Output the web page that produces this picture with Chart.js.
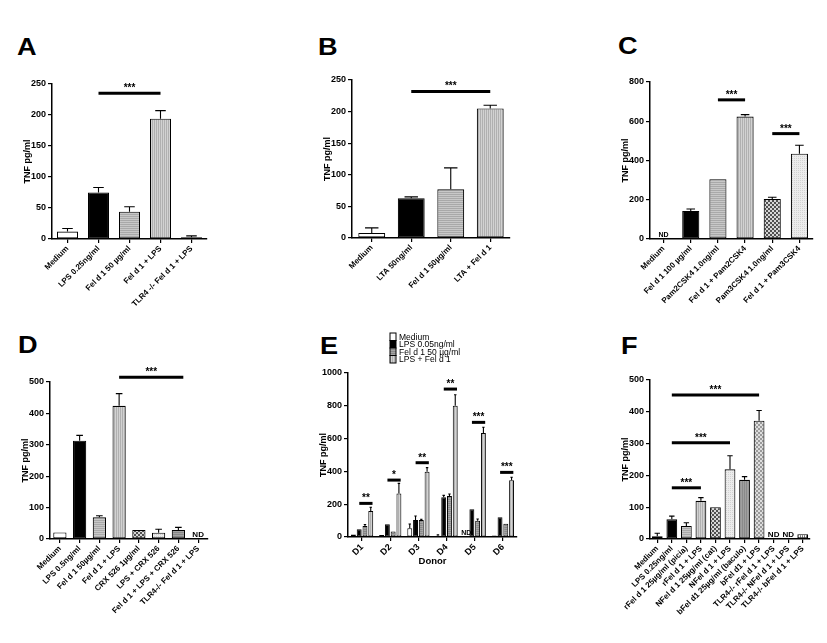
<!DOCTYPE html>
<html>
<head>
<meta charset="utf-8">
<script src="https://cdn.jsdelivr.net/npm/chart.js@4.4.0/dist/chart.umd.min.js"></script>
<style>
  body { margin: 0; background: #fff; width: 827px; height: 643px; position: relative; overflow: hidden; font-family: "Liberation Sans", Arial, sans-serif; }
  canvas { position: absolute; }
  .panel { position: absolute; font-weight: bold; font-size: 23px; line-height: 1; transform: scaleX(1.18); transform-origin: left top; }
</style>
</head>
<body>
<div class="panel" style="left:17px;top:36px">A</div>
<div class="panel" style="left:318px;top:36px">B</div>
<div class="panel" style="left:618px;top:35px">C</div>
<div class="panel" style="left:18px;top:334px">D</div>
<div class="panel" style="left:320px;top:335px">E</div>
<div class="panel" style="left:621px;top:335px">F</div>

<canvas id="chartA"></canvas>
<canvas id="chartB"></canvas>
<canvas id="chartC"></canvas>
<canvas id="chartD"></canvas>
<canvas id="chartE"></canvas>
<canvas id="chartF"></canvas>

<script>
// ---- data ----
const aLabels = ["Medium", "LPS 0.25ng/ml", "Fel d 1 50 µg/ml", "Fel d 1 + LPS", "TLR4 -/- Fel d 1 + LPS"];
const aValues = [12, 75, 44, 194, 3];
const aErrors = [5, 8, 8, 13, 2];

const bLabels = ["Medium", "LTA 50ng/ml", "Fel d 1 50µg/ml", "LTA + Fel d 1"];
const bValues = [8, 63, 77, 205];
const bErrors = [8, 2, 34, 5];

const cLabels = ["Medium", "Fel d 1 100 µg/ml", "Pam2CSK4 1.0ng/ml", "Fel d 1 + Pam2CSK4", "Pam3CSK4 1.0ng/ml", "Fel d 1 + Pam3CSK4"];
const cValues = [null, 143, 305, 624, 204, 435];
const cErrors = [0, 10, 0, 10, 9, 43];

const dLabels = ["Medium", "LPS 0.5ng/ml", "Fel d 1 50µg/ml", "Fel d 1 + LPS", "CRX 526 1µg/ml", "LPS + CRX 526", "Fel d 1 + LPS + CRX 526", "TLR4-/- Fel d 1 + LPS"];
const dValues = [21, 313, 69, 424, 29, 20, 29, null];
const dErrors = [0, 17, 5, 39, 0, 11, 8, 0];

const eLabels = ["D1", "D2", "D3", "D4", "D5", "D6"];
const eSeries = ["Medium", "LPS 0.05ng/ml", "Fel d 1 50 µg/ml", "LPS + Fel d 1"];
const eMedium = [16, 12, 53, 8, null, 9];
const eMediumErr = [0, 0, 26, 5, 0, 0];
const eLps = [47, 77, 104, 242, 169, 120];
const eLpsErr = [0, 0, 24, 12, 0, 0];
const eFel = [67, 33, 104, 250, 99, 81];
const eFelErr = [9, 0, 4, 12, 11, 0];
const eLpsFel = [158, 266, 398, 801, 634, 346];
const eLpsFelErr = [23, 61, 25, 66, 35, 18];

const fLabels = ["Medium", "LPS 0.25ng/ml", "rFel d 1 25µg/ml (picia)", "rFel d 1 + LPS", "NFel d 1 25µg/ml (cat)", "NFel d 1 + LPS", "bFel d1 25µg/ml (baculo)", "bFel d1 + LPS", "TLR4-/- rFel d 1 + LPS", "TLR4-/- NFel d 1 + LPS", "TLR4-/- bFel d 1 + LPS"];
const fValues = [9, 62, 41, 120, 100, 219, 186, 372, null, null, 15];
const fErrors = [9, 10, 10, 10, 0, 43, 10, 32, 0, 0, 0];

// significance bars: category positions (can be fractional), height in pg/ml, stars
const aSig = [{ from: 1, to: 3, value: 235, stars: "***" }];
const bSig = [{ from: 1, to: 3, value: 232, stars: "***" }];
const cSig = [{ from: 2, to: 3, value: 709, stars: "***" }, { from: 4, to: 5, value: 537, stars: "***" }];
const dSig = [{ from: 3, to: 6.25, value: 515, stars: "***" }];
const eSigValues = [205, 347, 453, 902, 699, 394];
const eSigStars = ["**", "*", "**", "**", "***", "***"];
const fSig = [
  { from: 1, to: 3, value: 161, stars: "***" },
  { from: 1, to: 5, value: 303, stars: "***" },
  { from: 1, to: 7, value: 453, stars: "***" },
];

// ---- fills ----
function makePattern(bg, fg, kind) {
  const c = document.createElement("canvas");
  c.width = 4;
  c.height = 4;
  const g = c.getContext("2d");
  g.fillStyle = bg;
  g.fillRect(0, 0, 4, 4);
  g.fillStyle = fg;
  for (let x = 0; x < 4; x++) {
    for (let y = 0; y < 4; y++) {
      let on = false;
      if (kind === "h") on = y % 2 === 0;
      if (kind === "v") on = x % 2 === 0;
      if (kind === "c") on = Math.floor(x / 2) % 2 === Math.floor(y / 2) % 2;
      if (kind === "d") on = x % 2 === 0 && y % 2 === 0;
      if (on) g.fillRect(x, y, 1, 1);
    }
  }
  return g.createPattern(c, "repeat");
}

const white = "#ffffff";
const black = "#000000";
const grayH = makePattern("#c8c8c8", "#a9a9a9", "h");
const grayV = makePattern("#d2d2d2", "#b0b0b0", "v");
const darkH = makePattern("#a4a4a4", "#888888", "h");
const darkV = makePattern("#a0a0a0", "#8a8a8a", "v");
const check = makePattern("#d6d6d6", "#505050", "c");
const checkLight = makePattern("#dedede", "#9a9a9a", "c");
const lightDots = makePattern("#ececec", "#d2d2d2", "d");
const whiteV = makePattern("#ffffff", "#777777", "v");

// ---- drawing extras (error bars, significance, ND, legend) ----
function extrasPlugin(cfg) {
  return {
    id: "extras",
    afterDatasetsDraw(chart) {
      const ctx = chart.ctx;
      const xs = chart.scales.x;
      const ys = chart.scales.y;
      ctx.save();
      ctx.strokeStyle = "#000";
      ctx.fillStyle = "#000";

      (cfg.errors || []).forEach((errs, di) => {
        const meta = chart.getDatasetMeta(di);
        const vals = chart.data.datasets[di].data;
        meta.data.forEach((bar, i) => {
          if (vals[i] == null || !errs[i]) return;
          const top = ys.getPixelForValue(vals[i] + errs[i]);
          const half = bar.width / 4;
          ctx.lineWidth = 1.1;
          ctx.beginPath();
          ctx.moveTo(bar.x, bar.y);
          ctx.lineTo(bar.x, top);
          ctx.moveTo(bar.x - half, top);
          ctx.lineTo(bar.x + half, top);
          ctx.stroke();
        });
      });

      (cfg.sig || []).forEach((s) => {
        const x1 = xs.getPixelForValue(s.from);
        const x2 = xs.getPixelForValue(s.to);
        const y = ys.getPixelForValue(s.value);
        ctx.lineWidth = 3;
        ctx.beginPath();
        ctx.moveTo(x1, y);
        ctx.lineTo(x2, y);
        ctx.stroke();
        ctx.font = "bold 10px 'Liberation Sans', Arial, sans-serif";
        ctx.textAlign = "center";
        ctx.textBaseline = "alphabetic";
        ctx.fillText(s.stars, (x1 + x2) / 2, y - 2);
      });

      (cfg.nd || []).forEach((n) => {
        ctx.font = "bold " + n.size + "px 'Liberation Sans', Arial, sans-serif";
        ctx.textAlign = "center";
        ctx.textBaseline = "alphabetic";
        ctx.fillText("ND", xs.getPixelForValue(n.at), ys.bottom - 2);
      });

      if (cfg.legend) {
        const lg = cfg.legend;
        ctx.font = "8.5px 'Liberation Sans', Arial, sans-serif";
        ctx.textAlign = "left";
        ctx.textBaseline = "middle";
        chart.data.datasets.forEach((ds, i) => {
          const y = lg.y + i * lg.row;
          ctx.fillStyle = ds.backgroundColor;
          ctx.fillRect(lg.x, y, 6, lg.row);
          ctx.lineWidth = 1;
          ctx.strokeRect(lg.x, y, 6, lg.row);
          ctx.fillStyle = "#000";
          ctx.fillText(ds.label, lg.x + 9, y + lg.row / 2 + 0.5);
        });
      }
      ctx.restore();
    },
  };
}

Chart.defaults.font.family = "'Liberation Sans', Arial, sans-serif";
Chart.defaults.font.weight = "bold";
Chart.defaults.color = "#000";

const PAD_TOP = 50;
const Y_WIDTH = 30;

function makeChart(id, box, labels, datasets, yAxis, extras) {
  const xHeight = box.xHeight || 100;
  const canvas = document.getElementById(id);
  canvas.width = box.R - box.L + Y_WIDTH + 10;
  canvas.height = PAD_TOP + (box.B - box.T) + xHeight;
  canvas.style.left = box.L - Y_WIDTH + "px";
  canvas.style.top = box.T - PAD_TOP + "px";

  const zeroPad = (s) => {
    s.paddingLeft = 0;
    s.paddingRight = 0;
    s.paddingTop = 0;
    s.paddingBottom = 0;
  };

  return new Chart(canvas, {
    type: "bar",
    data: { labels: labels, datasets: datasets },
    options: {
      responsive: false,
      animation: false,
      devicePixelRatio: 1,
      layout: { padding: { top: PAD_TOP, right: 10, left: 0, bottom: 0 } },
      plugins: {
        legend: { display: false },
        tooltip: { enabled: false },
      },
      scales: {
        x: {
          offset: true,
          grid: { display: true, drawOnChartArea: false, offset: false, color: "#000", lineWidth: 1.2, tickLength: 4 },
          border: { display: true, color: "#000", width: 1.5 },
          ticks: {
            autoSkip: false,
            minRotation: 45,
            maxRotation: 45,
            padding: 1,
            font: { size: box.xFont || 8, weight: "bold" },
          },
          title: box.xTitle
            ? { display: true, text: box.xTitle, font: { size: 9.5, weight: "bold" }, padding: 0 }
            : { display: false },
          afterCalculateLabelRotation: (s) => {
            s.labelRotation = 45;
          },
          afterFit: (s) => {
            s.height = xHeight;
            zeroPad(s);
          },
        },
        y: {
          min: 0,
          max: yAxis.max,
          grid: { display: true, drawOnChartArea: false, color: "#000", lineWidth: 1.2, tickLength: 4 },
          border: { display: true, color: "#000", width: 1.5 },
          ticks: { stepSize: yAxis.step, padding: 2, font: { size: 9, weight: "bold" }, callback: (v) => String(v) },
          title: { display: true, text: "TNF pg/ml", font: { size: 9, weight: "bold" }, padding: 0 },
          afterFit: (s) => {
            s.width = Y_WIDTH;
            zeroPad(s);
          },
        },
      },
    },
    plugins: [extrasPlugin(extras)],
  });
}

function single(values, fills, pct) {
  return [{
    data: values,
    backgroundColor: fills,
    borderColor: "#000",
    borderWidth: 1.1,
    borderSkipped: false,
    categoryPercentage: 1,
    barPercentage: pct,
  }];
}

// A
makeChart("chartA", { L: 52, T: 84, R: 207, B: 239 }, aLabels,
  single(aValues, [white, black, grayH, grayV, lightDots], 0.68),
  { max: 250, step: 50 },
  { errors: [aErrors], sig: aSig });

// B
makeChart("chartB", { L: 352, T: 80, R: 510, B: 238 }, bLabels,
  single(bValues, [white, black, grayH, grayV], 0.68),
  { max: 250, step: 50 },
  { errors: [bErrors], sig: bSig });

// C
makeChart("chartC", { L: 650, T: 82, R: 813, B: 239 }, cLabels,
  single(cValues, [white, black, grayH, grayV, check, lightDots], 0.63),
  { max: 800, step: 200 },
  { errors: [cErrors], sig: cSig, nd: [{ at: 0, size: 7 }] });

// D
makeChart("chartD", { L: 50, T: 382, R: 208, B: 539 }, dLabels,
  single(dValues, [white, black, grayH, grayV, check, lightDots, darkH, white], 0.67),
  { max: 500, step: 100 },
  { errors: [dErrors], sig: dSig, nd: [{ at: 7, size: 8 }] });

// E
const eFills = [white, black, darkH, grayV];
const eData = [eMedium, eLps, eFel, eLpsFel];
const eDatasets = eData.map((vals, i) => ({
  label: eSeries[i],
  data: vals,
  backgroundColor: eFills[i],
  borderColor: "#000",
  borderWidth: 1,
  borderSkipped: false,
  categoryPercentage: 0.82,
  barPercentage: 0.85,
}));
const eSig = eSigValues.map((v, i) => ({ from: i - 0.1, to: i + 0.37, value: v, stars: eSigStars[i] }));
makeChart("chartE", { L: 348, T: 373, R: 517, B: 537, xHeight: 30, xFont: 9, xTitle: "Donor" }, eLabels,
  eDatasets,
  { max: 1000, step: 200 },
  {
    errors: [eMediumErr, eLpsErr, eFelErr, eLpsFelErr],
    sig: eSig,
    nd: [{ at: 4 - 0.3, size: 7 }],
    legend: { x: 72, y: 10, row: 7.5 },
  });

// F
makeChart("chartF", { L: 650, T: 380, R: 810, B: 539 }, fLabels,
  single(fValues, [lightDots, black, grayH, grayV, check, lightDots, darkV, checkLight, white, white, whiteV], 0.74),
  { max: 500, step: 100 },
  { errors: [fErrors], sig: fSig, nd: [{ at: 8, size: 8 }, { at: 9, size: 8 }] });
</script>
</body>
</html>
